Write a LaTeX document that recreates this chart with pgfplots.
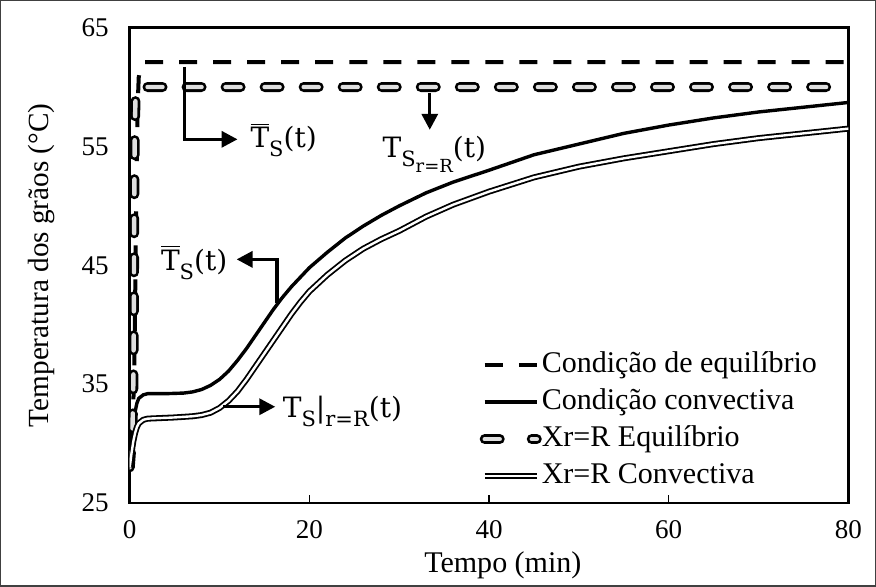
\documentclass[border=0pt]{standalone}
\usepackage{fontspec}
\setmainfont{Liberation Serif}
\newfontfamily\annfont{DejaVu Serif}
\usepackage{pgfplots}
\usepackage{pgfplotstable}
\pgfplotsset{compat=1.18}
\usetikzlibrary{arrows.meta}

% Mean temperature, equilibrium boundary condition
\pgfplotstableread{
t T
0 28.0
0.3 31.0
0.5 36.0
0.6 42.0
0.7 49.0
0.8 55.0
0.9 58.8
1.0 60.8
1.2 61.8
1.5 62.1
80 62.1
}\eqmean

% Mean temperature, convective boundary condition
\pgfplotstableread{
t T
0 28.0
0.2 30.0
0.4 31.6
0.6 32.7
0.8 33.4
1.0 33.8
1.5 34.1
2 34.2
4 34.2
6 34.25
7 34.35
8 34.55
9 34.9
10 35.4
11 36.1
12 37.0
13 38.0
14 39.1
15 40.2
16 41.3
17 42.3
18 43.2
19 44.0
20 44.8
22 46.1
24 47.3
26 48.3
28 49.2
30 50.0
33 51.1
36 52.0
40 53.0
45 54.3
50 55.2
55 56.1
60 56.8
65 57.4
70 57.9
75 58.3
80 58.7
}\convmean

% Surface temperature (r = R), equilibrium boundary condition
\pgfplotstableread{
t T
0 28.0
0.3 31.0
0.4 35.0
0.45 40.0
0.5 50.0
0.55 56.0
0.65 59.3
0.8 59.9
1.0 60.0
80 60.0
}\eqsurf

% Surface temperature (r = R), convective boundary condition
\pgfplotstableread{
t T
0 28.0
0.2 29.2
0.4 30.2
0.6 30.9
0.8 31.4
1.0 31.7
1.5 32.0
2 32.1
5 32.2
7 32.3
8 32.4
9 32.6
10 33.0
11 33.6
12 34.4
13 35.4
14 36.5
15 37.6
16 38.7
17 39.8
18 40.9
19 41.9
20 42.8
22 44.2
24 45.4
26 46.4
28 47.2
30 47.9
33 49.1
36 50.1
40 51.2
45 52.4
50 53.3
55 54.0
60 54.6
65 55.2
70 55.7
75 56.1
80 56.5
}\convsurf

% callout text helpers
\newcommand\Tbar{$\overline{\mbox{T}}$}
\newcommand\sub[1]{\raisebox{-0.32em}{\fontsize{10.5}{12}\selectfont #1}}
\newcommand\subsub[1]{\raisebox{-0.3em}{\fontsize{9}{10}\selectfont #1}}

\begin{document}
\begin{tikzpicture}[
  arr/.style={line width=1.7pt, -{Triangle[length=8pt,width=8pt]}},
  lab/.style={font=\annfont\fontsize{14}{16}\selectfont, inner sep=0pt}]
\begin{axis}[
  scale only axis,
  width=359pt, height=237.5pt,
  xmin=0, xmax=80, ymin=25, ymax=65,
  xtick={0,20,40,60,80}, ytick={25,35,45,55,65},
  axis line style={line width=1.3pt},
  tick align=inside,
  xtick pos=bottom,
  major tick length=4pt,
  x tick style={line width=0.6pt, black},
  y tick style={draw=none},
  /pgf/number format/assume math mode=true,
  tick label style={font=\fontsize{13.5}{15}\selectfont},
  yticklabel style={xshift=-7pt},
  xticklabel style={yshift=-5pt},
  xlabel={Tempo (min)},
  ylabel={Temperatura dos grãos (°C)},
  xlabel style={font=\fontsize{15}{17}\selectfont,
    at={(axis description cs:0.4,-0.1305)}, anchor=west},
  ylabel style={font=\fontsize{14.6}{17}\selectfont,
    at={(axis description cs:-0.1226,0.5)}, anchor=center},
  clip mode=individual,
  legend cell align=left,
  legend style={draw=none, fill=none, inner sep=0pt, outer sep=0pt,
    at={(axis description cs:0.487,0.326)}, anchor=north west,
    font=\fontsize{15}{17}\selectfont, row sep=1.5pt,
    nodes={inner ysep=1pt, inner xsep=0pt, text height=11pt, text depth=4pt}},
  legend image code/.code={\draw[#1] (0pt,0pt) -- (26pt,0pt);},
]
\addplot[black, line width=2pt, dash pattern=on 9pt off 8pt] table[x=t,y=T] {\eqmean};
\addlegendentry{Condição de equilíbrio}
\addplot[black, line width=1.7pt] table[x=t,y=T] {\convmean};
\addlegendentry{Condição convectiva}
\addplot[black, line width=1.4pt, double=gray!25, double distance=2.2pt,
  line cap=round, dash pattern=on 7.5pt off 12pt,
  legend image post style={dash pattern=on 7.5pt off 16pt}] table[x=t,y=T] {\eqsurf};
\addlegendentry{Xr=R Equilíbrio}
\addplot[black, line width=0.9pt, double=white, double distance=1.2pt] table[x=t,y=T] {\convsurf};
\addlegendentry{Xr=R Convectiva}

% callouts
\draw[arr] (axis cs:6.1,61.7) |- (axis cs:12.0,55.6);
\node[lab, anchor=base west] at (axis cs:13.4,54.9) {\Tbar\sub{S}(t)};
\draw[arr] (axis cs:33.4,59.5) -- (axis cs:33.4,56.4);
\node[lab, anchor=base west] at (axis cs:28.1,54.1) {T\sub{S\subsub{r=R}}(t)};
\draw[arr] (axis cs:16.4,41.8) |- (axis cs:11.9,45.5);
\node[lab, anchor=base east] at (axis cs:10.9,44.6) {\Tbar\sub{S}(t)};
\draw[arr] (axis cs:10.4,33.1) -- (axis cs:16.2,33.1);
\node[lab, anchor=base west] at (axis cs:17.0,32.2) {T\sub{S}|\sub{r=R}(t)};

% outer frame
\draw[line width=0.6pt, black!75] (rel axis cs:-0.1797,-0.1747) rectangle (rel axis cs:1.0376,1.0568);
\end{axis}
\end{tikzpicture}
\end{document}
